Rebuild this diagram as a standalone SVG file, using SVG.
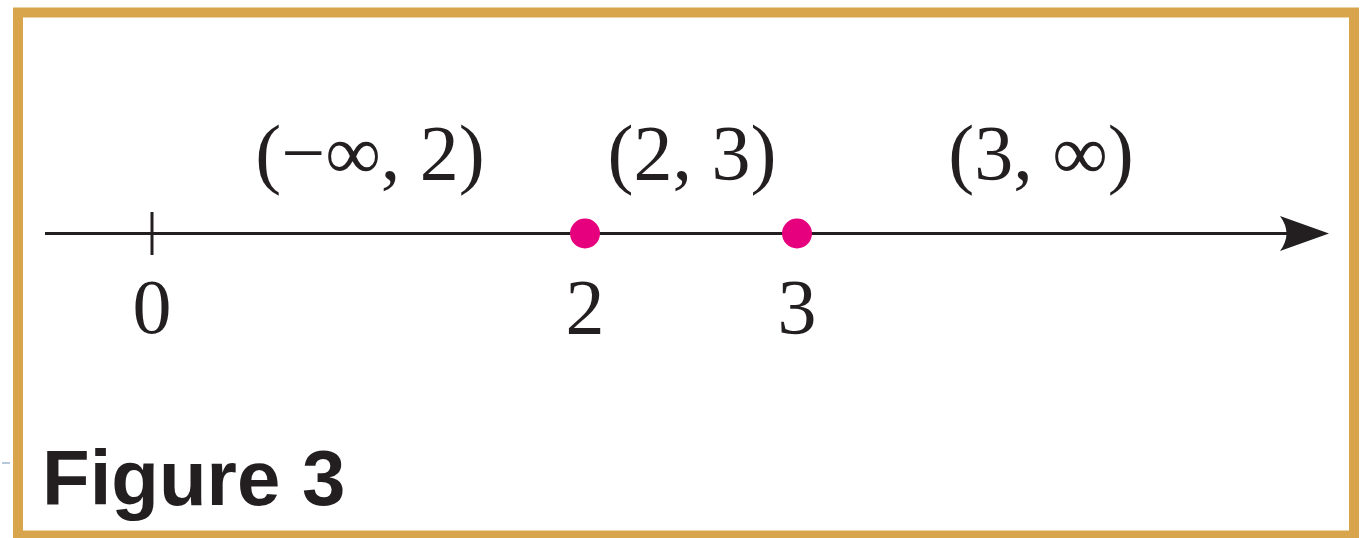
<svg xmlns="http://www.w3.org/2000/svg" width="1363" height="538" viewBox="0 0 1363 538">
<style>
.serif{font-family:"Liberation Serif","Times New Roman",serif;font-size:78px;fill:#231f20;text-anchor:middle}
.dot{fill:#e6007e}
.axis{stroke:#231f20;stroke-width:3;fill:none}
</style>
<rect width="1363" height="538" fill="#fff"/>
<rect x="18" y="12.5" width="1336" height="523" fill="none" stroke="#d9a54c" stroke-width="10"/>
<line x1="2" y1="463" x2="10" y2="463" stroke="#9fb6cf" stroke-width="1.5"/>
<g id="connectors">
<line class="axis" x1="45" y1="233.5" x2="1290" y2="233.5"/>
<path d="M1329,233.5 L1280,216 Q1293,233.5 1280,251 Z" fill="#231f20"/>
<line class="axis" x1="152" y1="212" x2="152" y2="255" stroke-width="2.5"/>
</g>
<g id="point-2"><circle class="dot" cx="585" cy="233.5" r="15"/><text class="serif" x="585" y="333">2</text></g>
<g id="point-3"><circle class="dot" cx="797" cy="233.5" r="15"/><text class="serif" x="797" y="333">3</text></g>
<g id="zero"><text class="serif" x="152" y="333">0</text></g>
<g id="interval-1"><text class="serif" x="370" y="179">(−∞, 2)</text></g>
<g id="interval-2"><text class="serif" x="692" y="179">(2, 3)</text></g>
<g id="interval-3"><text class="serif" x="1041" y="179">(3, ∞)</text></g>
<g id="caption"><text x="42" y="505" font-family="Liberation Sans, Arial, sans-serif" font-weight="bold" font-size="78" fill="#231f20">Figure 3</text></g>
</svg>
